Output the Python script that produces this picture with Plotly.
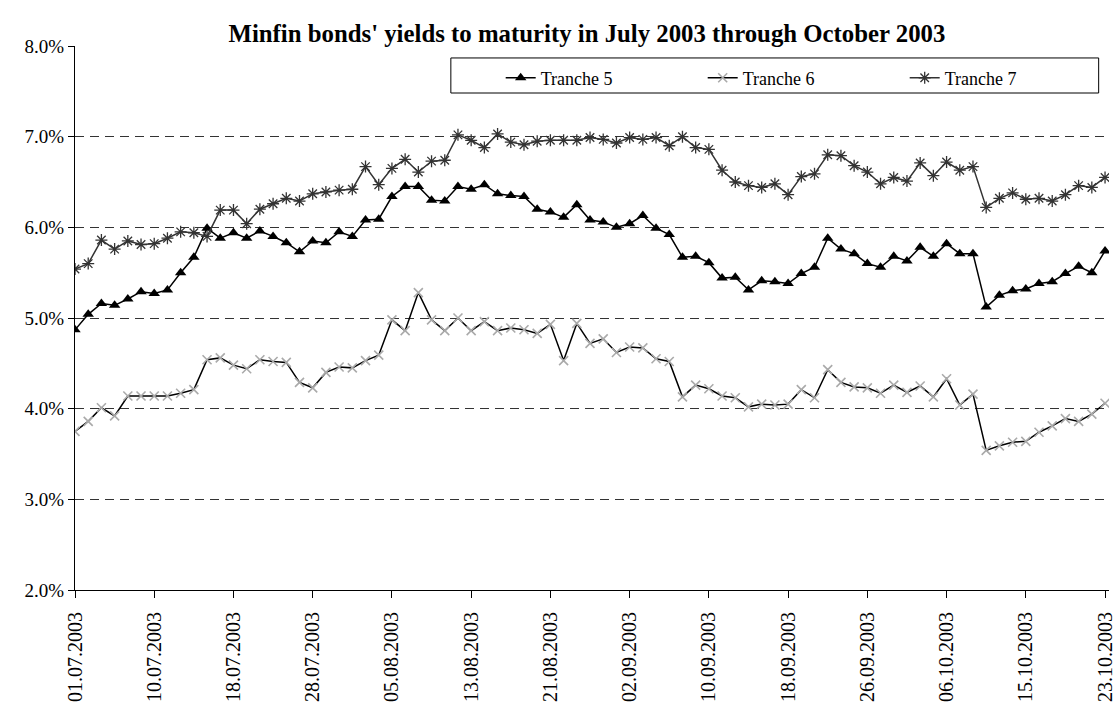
import plotly.graph_objects as go

dates = [
    "01.07.2003", "02.07.2003", "03.07.2003", "04.07.2003", "07.07.2003", "08.07.2003",
    "10.07.2003", "11.07.2003", "14.07.2003", "15.07.2003", "16.07.2003", "17.07.2003",
    "18.07.2003", "21.07.2003", "22.07.2003", "23.07.2003", "24.07.2003", "25.07.2003",
    "28.07.2003", "29.07.2003", "30.07.2003", "31.07.2003", "01.08.2003", "04.08.2003",
    "05.08.2003", "06.08.2003", "07.08.2003", "08.08.2003", "11.08.2003", "12.08.2003",
    "13.08.2003", "14.08.2003", "15.08.2003", "18.08.2003", "19.08.2003", "20.08.2003",
    "21.08.2003", "22.08.2003", "26.08.2003", "27.08.2003", "28.08.2003", "29.08.2003",
    "02.09.2003", "03.09.2003", "04.09.2003", "05.09.2003", "08.09.2003", "09.09.2003",
    "10.09.2003", "11.09.2003", "12.09.2003", "15.09.2003", "16.09.2003", "17.09.2003",
    "18.09.2003", "19.09.2003", "22.09.2003", "23.09.2003", "24.09.2003", "25.09.2003",
    "26.09.2003", "29.09.2003", "30.09.2003", "01.10.2003", "02.10.2003", "03.10.2003",
    "06.10.2003", "07.10.2003", "08.10.2003", "09.10.2003", "13.10.2003", "14.10.2003",
    "15.10.2003", "16.10.2003", "17.10.2003", "20.10.2003", "21.10.2003", "22.10.2003",
    "23.10.2003",
]

tranche5 = [
    4.87, 5.04, 5.16, 5.14, 5.21, 5.29, 5.27, 5.31, 5.50, 5.67, 5.99, 5.88, 5.94, 5.88,
    5.96, 5.90, 5.83, 5.73, 5.85, 5.83, 5.95, 5.90, 6.08, 6.09, 6.34, 6.45, 6.45, 6.30,
    6.29, 6.45, 6.42, 6.47, 6.37, 6.35, 6.34, 6.20, 6.17, 6.11, 6.25, 6.08, 6.06, 6.00,
    6.04, 6.13, 5.99, 5.92, 5.67, 5.68, 5.61, 5.44, 5.45, 5.31, 5.41, 5.40, 5.38, 5.49,
    5.56, 5.88, 5.76, 5.71, 5.60, 5.56, 5.68, 5.63, 5.78, 5.68, 5.82, 5.71, 5.71, 5.12,
    5.25, 5.30, 5.32, 5.38, 5.40, 5.49, 5.57, 5.50, 5.74,
]

tranche6 = [
    3.75, 3.86, 4.01, 3.92, 4.14, 4.14, 4.14, 4.14, 4.17, 4.21, 4.54, 4.56, 4.48, 4.44,
    4.54, 4.52, 4.51, 4.29, 4.23, 4.40, 4.46, 4.45, 4.53, 4.59, 4.98, 4.86, 5.28, 4.98,
    4.86, 5.00, 4.86, 4.96, 4.86, 4.89, 4.87, 4.83, 4.93, 4.53, 4.94, 4.72, 4.77, 4.62,
    4.68, 4.67, 4.55, 4.52, 4.13, 4.26, 4.22, 4.14, 4.12, 4.02, 4.05, 4.04, 4.05, 4.21,
    4.12, 4.43, 4.29, 4.24, 4.23, 4.17, 4.26, 4.18, 4.25, 4.13, 4.33, 4.04, 4.16, 3.54,
    3.59, 3.63, 3.64, 3.74, 3.81, 3.89, 3.86, 3.94, 4.06,
]

tranche7 = [
    5.54, 5.60, 5.86, 5.76, 5.85, 5.81, 5.82, 5.88, 5.95, 5.94, 5.90, 6.19, 6.19, 6.04,
    6.20, 6.26, 6.32, 6.29, 6.37, 6.39, 6.41, 6.42, 6.67, 6.47, 6.65, 6.75, 6.61, 6.73,
    6.74, 7.02, 6.96, 6.88, 7.03, 6.94, 6.91, 6.95, 6.96, 6.96, 6.96, 6.99, 6.97, 6.93,
    6.99, 6.97, 6.99, 6.90, 7.00, 6.88, 6.86, 6.63, 6.50, 6.46, 6.44, 6.48, 6.36, 6.56,
    6.59, 6.80, 6.79, 6.68, 6.61, 6.48, 6.55, 6.51, 6.71, 6.57, 6.72, 6.63, 6.67, 6.22,
    6.32, 6.38, 6.31, 6.32, 6.29, 6.36, 6.46, 6.44, 6.55,
]

tick_labels = dates[::6]
y_ticks = [2, 3, 4, 5, 6, 7, 8]

FONT = "Liberation Serif"

fig = go.Figure()
fig.add_trace(go.Scatter(
    x=dates, y=tranche5, name="Tranche 5", mode="lines+markers",
    line=dict(color="black", width=1.5),
    marker=dict(symbol="triangle-up", size=10, color="black"),
))
fig.add_trace(go.Scatter(
    x=dates, y=tranche6, name="Tranche 6", mode="lines+markers",
    line=dict(color="black", width=1.5),
    marker=dict(symbol="x-thin-open", size=9, color="#aaaaaa",
                line=dict(color="#aaaaaa", width=1.6)),
))
fig.add_trace(go.Scatter(
    x=dates, y=tranche7, name="Tranche 7", mode="lines+markers",
    line=dict(color="#333333", width=1.5),
    marker=dict(symbol="asterisk-open", size=10, color="#333333",
                line=dict(color="#333333", width=1.3)),
))

fig.update_layout(
    width=1118, height=704,
    margin=dict(l=75, r=2, t=46, b=114),
    paper_bgcolor="white", plot_bgcolor="white",
    font=dict(family=FONT, size=19, color="black"),
    title=dict(
        text="<b>Minfin bonds' yields to maturity in July 2003 through October 2003</b>",
        x=0.525, xanchor="center", y=0.952, yanchor="middle",
        font=dict(family=FONT, size=24.8, color="black"),
    ),
    showlegend=True,
    legend=dict(
        orientation="h", x=0.4117, xanchor="left", y=0.975, yanchor="top",
        bgcolor="rgba(0,0,0,0)", borderwidth=0,
        font=dict(family=FONT, size=18, color="black"),
        entrywidth=157, entrywidthmode="pixels",
    ),
    shapes=[dict(
        type="rect", xref="paper", yref="paper",
        x0=0.3635, x1=0.990, y0=0.9136, y1=0.978,
        line=dict(color="black", width=1), fillcolor="white", layer="below",
    )],
)

fig.update_xaxes(
    type="category", range=[0, 78.3],
    tickmode="array", tickvals=tick_labels, ticktext=tick_labels,
    tickangle=-90, ticks="outside", ticklen=7, tickcolor="black", tickwidth=1,
    ticklabelstandoff=6,
    showline=True, linecolor="black", linewidth=1,
    showgrid=False, zeroline=False,
    tickfont=dict(family=FONT, size=20, color="black"),
)
fig.update_yaxes(
    range=[2, 8], tickmode="array", tickvals=y_ticks,
    ticktext=[f"{v:.1f}%" for v in y_ticks],
    ticks="outside", ticklen=6, tickcolor="black", tickwidth=1,
    showline=True, linecolor="black", linewidth=1,
    showgrid=True, gridcolor="#333333", gridwidth=1, griddash="9px,6px",
    zeroline=False,
    tickfont=dict(family=FONT, size=19, color="black"),
)

fig.write_html("out.html")
